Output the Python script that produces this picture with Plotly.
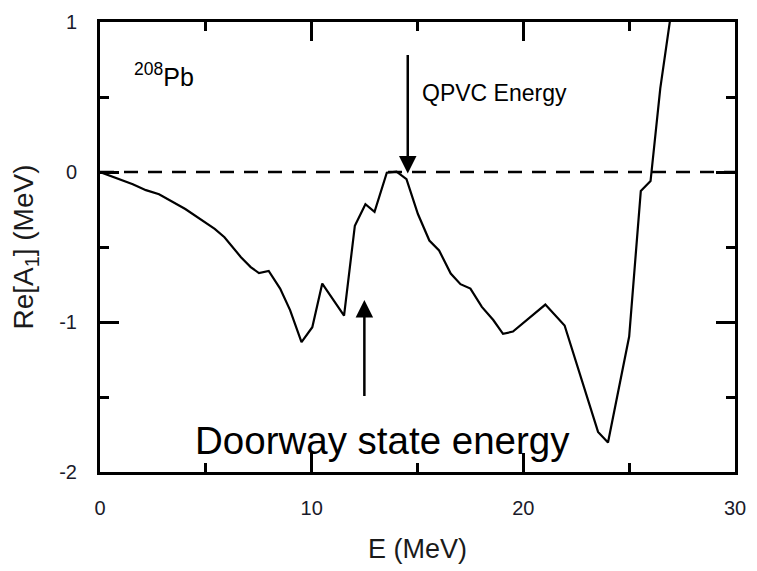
import plotly.graph_objects as go

# Data
energy = [0.0, 1.55, 2.17, 2.79, 4.03, 5.42, 5.88, 6.66, 7.12, 7.51, 7.97, 8.51, 8.98,
          9.52, 10.03, 10.50, 11.53, 12.04, 12.54, 12.97, 13.55, 14.01, 14.48, 15.02,
          15.56, 16.02, 16.57, 17.03, 17.50, 18.04, 18.58, 19.04, 19.51, 21.04, 21.95,
          23.53, 24.00, 25.00, 25.55, 26.01, 26.47, 26.95]
re_a1 = [0.0, -0.081, -0.121, -0.148, -0.247, -0.379, -0.435, -0.568, -0.634, -0.674,
         -0.660, -0.777, -0.921, -1.134, -1.035, -0.744, -0.958, -0.358, -0.215, -0.265,
         -0.005, 0.002, -0.048, -0.280, -0.457, -0.523, -0.677, -0.748, -0.777, -0.899,
         -0.987, -1.079, -1.064, -0.884, -1.023, -1.733, -1.803, -1.097, -0.126, -0.060,
         0.558, 1.03]

x_ticks = [0, 10, 20, 30]
x_ticktext = ["0", "10", "20", "30"]
y_ticks = [-2, -1, 0, 1]
y_ticktext = ["-2", "-1", "0", "1"]
x_range = [0, 30]
y_range = [-2, 1]

FONT = "Liberation Sans, Arial, sans-serif"

fig = go.Figure()
fig.add_trace(go.Scatter(x=energy, y=re_a1, mode="lines",
                         line=dict(color="black", width=2.2), showlegend=False,
                         cliponaxis=True))

fig.add_shape(type="line", x0=0, x1=30, y0=0, y1=0, xref="x", yref="y",
              line=dict(color="black", width=2.5, dash="14px,10px"))

axis_common = dict(showline=True, linecolor="black", linewidth=3, mirror="ticks",
                   ticks="inside", tickcolor="black", tickwidth=2.5, ticklen=19,
                   showgrid=False, zeroline=False,
                   tickfont=dict(family=FONT, size=20, color="#1a1a2a"))

fig.update_xaxes(range=x_range, tickvals=x_ticks, ticktext=x_ticktext, ticklabelstandoff=16,
                 minor=dict(dtick=5, ticks="inside", ticklen=9, tickwidth=2.5,
                            tickcolor="black", showgrid=False),
                 title=dict(text="E (MeV)", font=dict(family=FONT, size=27, color="#1a1a1a"),
                            standoff=22),
                 **axis_common)
fig.update_yaxes(range=y_range, tickvals=y_ticks, ticktext=y_ticktext, ticklabelstandoff=16,
                 minor=dict(dtick=0.5, ticks="inside", ticklen=9, tickwidth=2.5,
                            tickcolor="black", showgrid=False),
                 title=dict(text="Re[A<sub>1</sub>] (MeV)",
                            font=dict(family=FONT, size=28, color="#1a1a1a"), standoff=18),
                 **axis_common)

annotations = [
    dict(x=1.53, y=0.65, xref="x", yref="y", text="<sup>208</sup>Pb", showarrow=False,
         xanchor="left", yanchor="middle", font=dict(family=FONT, size=25, color="black")),
    dict(x=15.1, y=0.53, xref="x", yref="y", text="QPVC Energy", showarrow=False,
         xanchor="left", yanchor="middle", font=dict(family=FONT, size=23, color="black")),
    dict(x=4.41, y=-1.79, xref="x", yref="y", text="Doorway state energy", showarrow=False,
         xanchor="left", yanchor="middle", font=dict(family=FONT, size=38.5, color="black")),
    dict(x=14.54, y=-0.01, xref="x", yref="y", ax=14.54, ay=0.79, axref="x", ayref="y",
         text="", showarrow=True, arrowhead=2, arrowsize=1.4, arrowwidth=2.5,
         arrowcolor="black", standoff=0),
    dict(x=12.49, y=-0.854, xref="x", yref="y", ax=12.49, ay=-1.503, axref="x", ayref="y",
         text="", showarrow=True, arrowhead=2, arrowsize=1.4, arrowwidth=2.5,
         arrowcolor="black", standoff=0),
]

fig.update_layout(width=757, height=571, margin=dict(l=100, r=11, t=20, b=98),
                  paper_bgcolor="white", plot_bgcolor="white",
                  annotations=annotations, font=dict(family=FONT))

fig.write_html("out.html")
